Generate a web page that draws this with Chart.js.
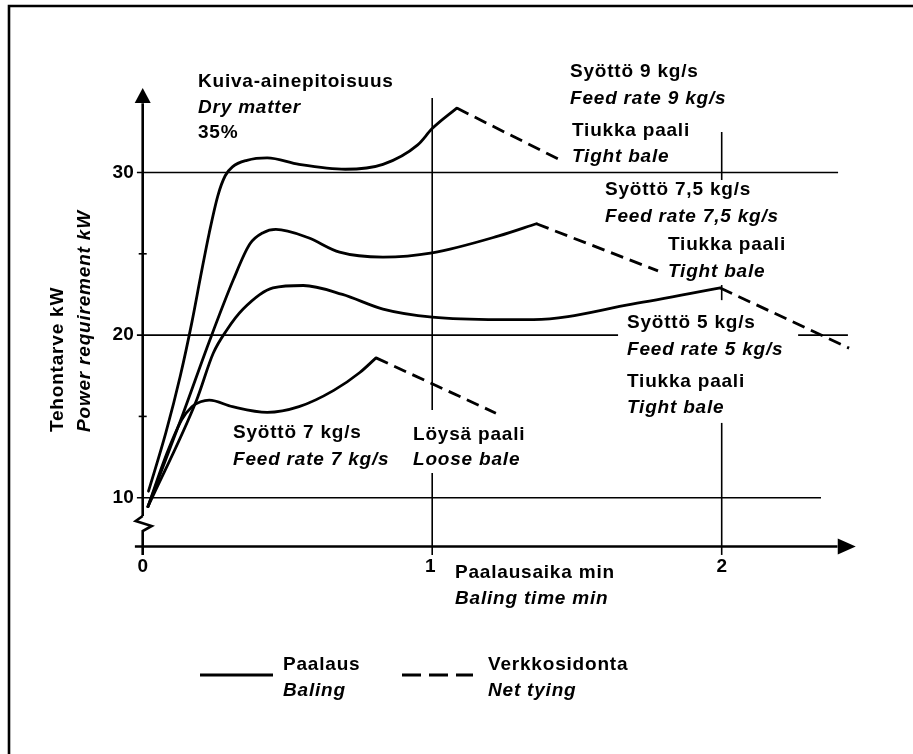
<!DOCTYPE html>
<html>
<head>
<meta charset="utf-8">
<script src="https://cdn.jsdelivr.net/npm/chart.js@4.4.1/dist/chart.umd.min.js"></script>
<style>
html,body{margin:0;padding:0;background:#fff;}
#wrap{width:913px;height:754px;position:relative;}
</style>
</head>
<body>
<div id="wrap"><canvas id="c" width="913" height="754"></canvas></div>
<script>
// ---------- DATA ----------
// Baling time (min) and power requirement (kW)
const feed9Time   = [0.02, 0.08, 0.13, 0.17, 0.20, 0.23, 0.26, 0.285, 0.31, 0.36, 0.43, 0.54, 0.70, 0.83, 0.95, 1.0, 1.085];
const feed9Power  = [10.4, 14.0, 17.5, 20.8, 23.6, 26.3, 28.6, 29.8, 30.35, 30.75, 30.9, 30.5, 30.2, 30.5, 31.7, 32.7, 33.96];
const feed9TieTime  = [1.085, 1.45];
const feed9TiePower = [33.96, 30.7];

const feed75Time  = [0.018, 0.14, 0.232, 0.313, 0.37, 0.416, 0.46, 0.57, 0.68, 0.83, 1.0, 1.23, 1.36];
const feed75Power = [9.45, 15.2, 19.7, 23.4, 25.6, 26.3, 26.5, 26.0, 25.1, 24.8, 25.06, 26.1, 26.85];
const feed75TieTime  = [1.36, 1.78];
const feed75TiePower = [26.85, 23.95];

const feed5Time  = [0.018, 0.186, 0.244, 0.29, 0.347, 0.45, 0.555, 0.69, 0.83, 1.0, 1.23, 1.35, 1.69, 1.995];
const feed5Power = [9.45, 16.0, 18.9, 20.3, 21.6, 22.9, 23.05, 22.5, 21.6, 21.1, 20.95, 20.95, 21.9, 22.9];
const feed5TieTime  = [1.995, 2.44];
const feed5TiePower = [22.9, 19.2];

const feed7Time  = [0.018, 0.083, 0.135, 0.17, 0.2, 0.23, 0.31, 0.43, 0.54, 0.66, 0.75, 0.806];
const feed7Power = [9.45, 12.7, 14.8, 15.6, 15.9, 16.0, 15.6, 15.25, 15.6, 16.6, 17.7, 18.6];
const feed7TieTime  = [0.806, 1.22];
const feed7TiePower = [18.6, 15.2];

const xTickLabels = [0, 1, 2];
const yTickLabels = [10, 20, 30];
const yMinorTicks = [15, 25];

const yTitle1 = 'Tehontarve kW';
const yTitle2 = 'Power requirement kW';
const xTitle1 = 'Paalausaika min';
const xTitle2 = 'Baling time min';
const legendSolid = ['Paalaus', 'Baling'];
const legendDash  = ['Verkkosidonta', 'Net tying'];

// ---------- helpers ----------
function pts(xs, ys){ return xs.map((x,i)=>({x:x, y:ys[i]})); }
const FONT = '"Liberation Sans", Arial, Helvetica, sans-serif';
const F_N = 'bold 19px ' + FONT;
const F_I = 'italic bold 19px ' + FONT;
const LW = 2.8;
const DASH = [13, 7];

function solid(xs, ys){ return {data: pts(xs, ys), borderColor:'#000', borderWidth:LW, pointRadius:0, fill:false, cubicInterpolationMode:'monotone', borderCapStyle:'round', borderJoinStyle:'round'}; }
function dashed(xs, ys){ return {data: pts(xs, ys), borderColor:'#000', borderWidth:LW, pointRadius:0, fill:false, tension:0, borderDash:DASH}; }

// annotation text (pixel placement: left x, middle y)
const labels = [
  ['Kuiva-ainepitoisuus', 198, 82, F_N],
  ['Dry matter', 198, 108, F_I],
  ['35%', 198, 133, F_N],
  ['Syöttö 9 kg/s', 570, 72, F_N],
  ['Feed rate 9 kg/s', 570, 99, F_I],
  ['Tiukka paali', 572, 131, F_N],
  ['Tight bale', 572, 157, F_I],
  ['Syöttö 7,5 kg/s', 605, 190, F_N],
  ['Feed rate 7,5 kg/s', 605, 217, F_I],
  ['Tiukka paali', 668, 245, F_N],
  ['Tight bale', 668, 272, F_I],
  ['Syöttö 5 kg/s', 627, 323, F_N],
  ['Feed rate 5 kg/s', 627, 350, F_I],
  ['Tiukka paali', 627, 382, F_N],
  ['Tight bale', 627, 408, F_I],
  ['Syöttö 7 kg/s', 233, 433, F_N],
  ['Feed rate 7 kg/s', 233, 460, F_I],
  ['Löysä paali', 413, 435, F_N],
  ['Loose bale', 413, 460, F_I],
  [xTitle1, 455, 573, F_N],
  [xTitle2, 455, 599, F_I],
  [legendSolid[0], 283, 665, F_N],
  [legendSolid[1], 283, 691, F_I],
  [legendDash[0], 488, 665, F_N],
  [legendDash[1], 488, 691, F_I]
];

const decor = {
  id: 'decor',
  beforeDatasetsDraw(chart){
    const ctx = chart.ctx, xs = chart.scales.x, ys = chart.scales.y;
    const X = v => xs.getPixelForValue(v), Y = v => ys.getPixelForValue(v);
    ctx.save();
    ctx.strokeStyle = '#000'; ctx.fillStyle = '#000';
    // frame
    ctx.lineWidth = 2.6;
    ctx.beginPath(); ctx.moveTo(9, 754); ctx.lineTo(9, 6); ctx.lineTo(913, 6); ctx.stroke();
    // horizontal grid lines (with gaps where text sits)
    ctx.lineWidth = 1.6;
    const hl = (y, a, b) => { ctx.beginPath(); ctx.moveTo(X(a), Y(y)); ctx.lineTo(X(b), Y(y)); ctx.stroke(); };
    hl(30, -0.02, 2.402);
    hl(20, -0.02, 1.642); hl(20, 2.264, 2.436);
    hl(10, -0.02, 2.343);
    // vertical guide lines
    const vl = (x, a, b) => { ctx.beginPath(); ctx.moveTo(X(x), Y(a)); ctx.lineTo(X(x), Y(b)); ctx.stroke(); };
    vl(1, 34.58, 15.39); vl(1, 11.52, 6.48);
    vl(2, 32.49, 29.54); vl(2, 23.08, 22.15); vl(2, 14.6, 6.48);
    // minor ticks
    yMinorTicks.forEach(v => { ctx.beginPath(); ctx.moveTo(X(0)-4, Y(v)); ctx.lineTo(X(0)+4, Y(v)); ctx.stroke(); });
    // axes
    ctx.lineWidth = 2.6;
    const x0 = X(0);
    ctx.beginPath(); ctx.moveTo(x0, Y(35) + 12); ctx.lineTo(x0, 516); ctx.stroke();
    ctx.beginPath(); ctx.moveTo(x0, 516); ctx.lineTo(x0 - 7, 521); ctx.lineTo(x0 + 9, 526); ctx.lineTo(x0, 531); ctx.lineTo(x0, Y(6.48)); ctx.stroke();
    // y arrow
    ctx.beginPath(); ctx.moveTo(x0, Y(35.2)); ctx.lineTo(x0 - 8, Y(35.2) + 15); ctx.lineTo(x0 + 8, Y(35.2) + 15); ctx.closePath(); ctx.fill();
    // x axis
    const ya = Y(7);
    ctx.beginPath(); ctx.moveTo(X(-0.027), ya); ctx.lineTo(X(2.4), ya); ctx.stroke();
    ctx.beginPath(); ctx.moveTo(X(2.463), ya); ctx.lineTo(X(2.463) - 18, ya - 8); ctx.lineTo(X(2.463) - 18, ya + 8); ctx.closePath(); ctx.fill();
    // tick labels
    ctx.font = F_N; ctx.textBaseline = 'middle';
    ctx.textAlign = 'right';
    yTickLabels.forEach(v => ctx.fillText(String(v), x0 - 9, Y(v)));
    ctx.textAlign = 'center';
    xTickLabels.forEach(v => ctx.fillText(String(v), X(v) - (v===1?2:0), 567));
    ctx.restore();
  },
  afterDatasetsDraw(chart){
    const ctx = chart.ctx;
    ctx.save();
    ctx.fillStyle = '#000'; ctx.strokeStyle = '#000';
    ctx.textBaseline = 'middle'; ctx.textAlign = 'left';
    try { ctx.letterSpacing = '0.8px'; } catch(e) {}
    labels.forEach(l => { ctx.font = l[3]; ctx.fillText(l[0], l[1], l[2]); });
    // y-axis titles (rotated)
    ctx.save(); ctx.translate(58, 432); ctx.rotate(-Math.PI/2); ctx.font = F_N; ctx.fillText(yTitle1, 0, 0); ctx.restore();
    ctx.save(); ctx.translate(85, 432); ctx.rotate(-Math.PI/2); ctx.font = F_I; ctx.fillText(yTitle2, 0, 0); ctx.restore();
    // legend samples
    ctx.lineWidth = LW;
    ctx.beginPath(); ctx.moveTo(200, 675); ctx.lineTo(273, 675); ctx.stroke();
    ctx.setLineDash([19, 8]);
    ctx.beginPath(); ctx.moveTo(402, 675); ctx.lineTo(473, 675); ctx.stroke();
    ctx.setLineDash([]);
    ctx.restore();
  }
};

new Chart(document.getElementById('c'), {
  type: 'line',
  data: {
    datasets: [
      solid(feed9Time, feed9Power), dashed(feed9TieTime, feed9TiePower),
      solid(feed75Time, feed75Power), dashed(feed75TieTime, feed75TiePower),
      solid(feed5Time, feed5Power), dashed(feed5TieTime, feed5TiePower),
      solid(feed7Time, feed7Power), dashed(feed7TieTime, feed7TiePower)
    ]
  },
  options: {
    responsive: false,
    devicePixelRatio: 1,
    animation: false,
    layout: { padding: { left: 142.7, right: 46.55, top: 91.2, bottom: 207.5 } },
    scales: {
      x: { type: 'linear', min: 0, max: 2.5, display: false },
      y: { type: 'linear', min: 7, max: 35, display: false }
    },
    plugins: { legend: { display: false }, tooltip: { enabled: false } }
  },
  plugins: [decor]
});
</script>
</body>
</html>
